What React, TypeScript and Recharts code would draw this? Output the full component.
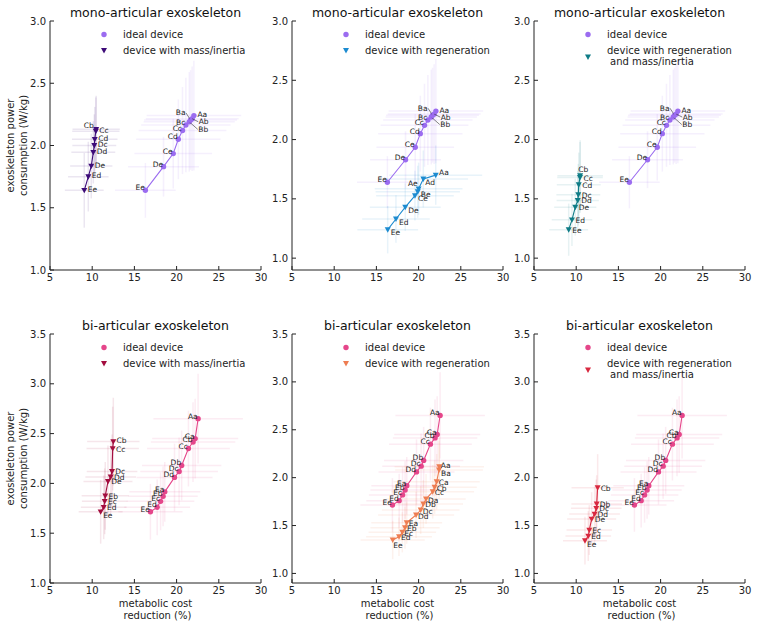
import React from 'react';
import { ScatterChart, Scatter, XAxis, YAxis, ErrorBar } from 'recharts';

const FONT = '"DejaVu Sans", Verdana, sans-serif';
const INK = '#222';

// axis ticks
const reductionTicks = [5, 10, 15, 20, 25, 30];
const monoPowerTicks = [1.0, 1.5, 2.0, 2.5, 3.0];
const biPowerTicks = [1.0, 1.5, 2.0, 2.5, 3.0, 3.5];

// mono-articular, ideal device
const monoIdealCodes = ['Ee', 'De', 'Ce', 'Cd', 'Cc', 'Bc', 'Bb', 'Ba', 'Ab', 'Aa'];
const monoIdealReduction = [16.3, 18.45, 19.6, 20.2, 20.7, 21.1, 21.5, 21.65, 21.85, 22.05];
const monoIdealPower = [1.64, 1.83, 1.935, 2.05, 2.12, 2.165, 2.19, 2.205, 2.215, 2.24];
const monoIdealReductionErr = [3.6, 4.2, 4.6, 5.0, 5.2, 5.3, 5.4, 5.5, 5.5, 5.6];
const monoIdealPowerErr = [0.22, 0.24, 0.28, 0.32, 0.35, 0.38, 0.4, 0.4, 0.42, 0.44];

// mono-articular, device with mass/inertia
const monoMassCodes = ['Ee', 'Ed', 'De', 'Dd', 'Dc', 'Cd', 'Cc', 'Cb'];
const monoMassReduction = [9.06, 9.54, 9.89, 10.13, 10.25, 10.3, 10.43, 10.47];
const monoMassPower = [1.64, 1.75, 1.835, 1.945, 2.0, 2.05, 2.115, 2.13];
const monoMassReductionErr = [2.3, 2.4, 2.5, 2.6, 2.6, 2.7, 2.8, 2.8];
const monoMassPowerErr = [0.3, 0.28, 0.26, 0.25, 0.25, 0.26, 0.27, 0.27];

// mono-articular, device with regeneration
const monoRegenCodes = ['Ee', 'Ed', 'De', 'Ce', 'Be', 'Ae', 'Ad', 'Aa'];
const monoRegenReduction = [16.34, 17.32, 18.42, 19.57, 19.9, 20.0, 20.56, 22.03];
const monoRegenPower = [1.24, 1.33, 1.43, 1.527, 1.56, 1.585, 1.668, 1.7];
const monoRegenReductionErr = [3.6, 4.0, 4.2, 4.6, 5.0, 5.2, 5.3, 5.5];
const monoRegenPowerErr = [0.2, 0.2, 0.2, 0.21, 0.22, 0.22, 0.24, 0.25];

// mono-articular, device with regeneration and mass/inertia
const monoRegenMassCodes = ['Ee', 'Ed', 'De', 'Dd', 'Dc', 'Cd', 'Cc', 'Cb'];
const monoRegenMassReduction = [9.11, 9.5, 9.89, 10.18, 10.25, 10.3, 10.45, 10.47];
const monoRegenMassPower = [1.24, 1.323, 1.43, 1.487, 1.535, 1.62, 1.68, 1.695];
const monoRegenMassReductionErr = [2.3, 2.4, 2.5, 2.5, 2.6, 2.6, 2.7, 2.7];
const monoRegenMassPowerErr = [0.22, 0.22, 0.24, 0.25, 0.26, 0.27, 0.3, 0.3];

// bi-articular, ideal device
const biIdealCodes = ['Ee', 'Ed', 'Ec', 'Eb', 'Ea', 'Dd', 'Dc', 'Db', 'Cc', 'Cb', 'Ca', 'Aa'];
const biIdealReduction = [16.9, 17.7, 18.1, 18.4, 18.6, 19.75, 20.3, 20.6, 21.4, 21.95, 22.2, 22.55];
const biIdealPower = [1.715, 1.76, 1.82, 1.87, 1.915, 2.06, 2.12, 2.18, 2.35, 2.415, 2.45, 2.65];
const biIdealReductionErr = [3.8, 3.9, 4.0, 4.1, 4.2, 4.5, 4.6, 4.7, 4.9, 5.0, 5.1, 5.3];
const biIdealPowerErr = [0.28, 0.28, 0.29, 0.3, 0.3, 0.34, 0.34, 0.35, 0.38, 0.4, 0.4, 0.45];

// bi-articular, device with mass/inertia
const biMassCodes = ['Ee', 'Ed', 'Ec', 'Eb', 'De', 'Dd', 'Dc', 'Cc', 'Cb'];
const biMassReduction = [11.0, 11.36, 11.48, 11.55, 11.87, 12.19, 12.35, 12.43, 12.5];
const biMassPower = [1.715, 1.76, 1.82, 1.875, 2.02, 2.065, 2.12, 2.35, 2.42];
const biMassReductionErr = [2.6, 2.7, 2.7, 2.8, 2.9, 3.0, 3.0, 3.1, 3.1];
const biMassPowerErr = [0.32, 0.32, 0.33, 0.34, 0.36, 0.37, 0.37, 0.42, 0.44];

// bi-articular, device with regeneration
const biRegenCodes = ['Ee', 'Ed', 'Ec', 'Eb', 'Ea', 'Dd', 'Dc', 'Db', 'Da', 'Cc', 'Cb', 'Ca', 'Ba', 'Aa'];
const biRegenReduction = [16.93, 17.68, 18.07, 18.39, 18.59, 19.7, 20.25, 20.56, 20.88, 21.67, 21.9, 22.14, 22.42, 22.45];
const biRegenPower = [1.349, 1.383, 1.43, 1.477, 1.53, 1.61, 1.662, 1.725, 1.777, 1.853, 1.9, 1.957, 2.08, 2.114];
const biRegenReductionErr = [3.8, 3.9, 4.0, 4.1, 4.2, 4.5, 4.6, 4.7, 4.7, 4.9, 5.0, 5.1, 5.2, 5.3];
const biRegenPowerErr = [0.2, 0.2, 0.21, 0.22, 0.22, 0.24, 0.25, 0.25, 0.26, 0.28, 0.28, 0.29, 0.3, 0.3];

// bi-articular, device with regeneration and mass/inertia
const biRegenMassCodes = ['Ee', 'Ed', 'Ec', 'De', 'Dd', 'Dc', 'Db', 'Cb'];
const biRegenMassReduction = [11.04, 11.43, 11.55, 11.83, 12.18, 12.38, 12.43, 12.54];
const biRegenMassPower = [1.342, 1.39, 1.453, 1.568, 1.62, 1.68, 1.725, 1.895];
const biRegenMassReductionErr = [2.6, 2.7, 2.7, 2.9, 3.0, 3.0, 3.0, 3.1];
const biRegenMassPowerErr = [0.25, 0.26, 0.26, 0.28, 0.29, 0.3, 0.3, 0.35];

type Row = { code: string; x: number; y: number; ex: number; ey: number };
type Place = { anchor: 'start' | 'end'; dx: number; dy: number; leader?: boolean };
type Series = {
  key: string;
  legend: string[];
  color: string;
  marker: 'circle' | 'triangle';
  rows: Row[];
  place: Place;
  overrides?: Record<string, Place>;
};

const rows = (codes: string[], x: number[], y: number[], ex: number[], ey: number[]): Row[] =>
  codes.map((code, i) => ({ code, x: x[i], y: y[i], ex: ex[i], ey: ey[i] }));

// label placement around a point (baseline offsets, px)
const upLeft: Place = { anchor: 'end', dx: -0.5, dy: 0 };

const monoIdeal: Series = {
  key: 'monoIdeal',
  legend: ['ideal device'],
  color: '#9b6cf0',
  marker: 'circle',
  rows: rows(monoIdealCodes, monoIdealReduction, monoIdealPower, monoIdealReductionErr, monoIdealPowerErr),
  place: upLeft,
  overrides: {
    Aa: { anchor: 'start', dx: 3.5, dy: 1.5 },
    Ab: { anchor: 'start', dx: 6.5, dy: 5.5, leader: true },
    Bb: { anchor: 'start', dx: 9, dy: 10, leader: true },
    Ba: { anchor: 'end', dx: -5, dy: -4.5, leader: true },
  },
};

const monoMass: Series = {
  key: 'monoMass',
  legend: ['device with mass/inertia'],
  color: '#3d0b78',
  marker: 'triangle',
  rows: rows(monoMassCodes, monoMassReduction, monoMassPower, monoMassReductionErr, monoMassPowerErr),
  place: { anchor: 'start', dx: 3.5, dy: 1.5 },
  overrides: { Cb: { anchor: 'end', dx: -2.5, dy: -1.5 } },
};

const monoRegen: Series = {
  key: 'monoRegen',
  legend: ['device with regeneration'],
  color: '#1c8bd0',
  marker: 'triangle',
  rows: rows(monoRegenCodes, monoRegenReduction, monoRegenPower, monoRegenReductionErr, monoRegenPowerErr),
  place: { anchor: 'start', dx: 3, dy: 5.5 },
  overrides: {
    Aa: { anchor: 'start', dx: 3.3, dy: 0 },
    Ad: { anchor: 'start', dx: 2, dy: 6.5 },
    Ae: { anchor: 'end', dx: -1, dy: -2.5 },
  },
};

const monoRegenMass: Series = {
  key: 'monoRegenMass',
  legend: ['device with regeneration', ' and mass/inertia'],
  color: '#0f7c86',
  marker: 'triangle',
  rows: rows(monoRegenMassCodes, monoRegenMassReduction, monoRegenMassPower, monoRegenMassReductionErr, monoRegenMassPowerErr),
  place: { anchor: 'start', dx: 3.5, dy: 3 },
  overrides: { Cb: { anchor: 'start', dx: -2, dy: -4 } },
};

const biIdeal: Series = {
  key: 'biIdeal',
  legend: ['ideal device'],
  color: '#e5468a',
  marker: 'circle',
  rows: rows(biIdealCodes, biIdealReduction, biIdealPower, biIdealReductionErr, biIdealPowerErr),
  place: upLeft,
};

const biMass: Series = {
  key: 'biMass',
  legend: ['device with mass/inertia'],
  color: '#a30d3e',
  marker: 'triangle',
  rows: rows(biMassCodes, biMassReduction, biMassPower, biMassReductionErr, biMassPowerErr),
  place: { anchor: 'start', dx: 3.3, dy: 3 },
  overrides: { Cb: { anchor: 'start', dx: 3.3, dy: 1 }, Ee: { anchor: 'start', dx: 2.5, dy: 6 } },
};

const biRegen: Series = {
  key: 'biRegen',
  legend: ['device with regeneration'],
  color: '#ee7d52',
  marker: 'triangle',
  rows: rows(biRegenCodes, biRegenReduction, biRegenPower, biRegenReductionErr, biRegenPowerErr),
  place: { anchor: 'start', dx: 2, dy: 3.5 },
  overrides: {
    Aa: { anchor: 'start', dx: 1.5, dy: 1 },
    Ba: { anchor: 'start', dx: 2, dy: 6.5 },
    Ee: { anchor: 'start', dx: 0.5, dy: 8 },
  },
};

const biRegenMass: Series = {
  key: 'biRegenMass',
  legend: ['device with regeneration', ' and mass/inertia'],
  color: '#d8283f',
  marker: 'triangle',
  rows: rows(biRegenMassCodes, biRegenMassReduction, biRegenMassPower, biRegenMassReductionErr, biRegenMassPowerErr),
  place: { anchor: 'start', dx: 3, dy: 3 },
  overrides: { Ee: { anchor: 'start', dx: 2, dy: 6 } },
};

type PanelCfg = {
  left: number;
  top: number;
  title: string;
  powerDomain: [number, number];
  powerTicks: number[];
  series: Series[];
  yLabel: boolean;
  xLabel: boolean;
};

const PLOT_W = 211;
const PLOT_H = 249;

const panels: PanelCfg[] = [
  { left: 50, top: 21, title: 'mono-articular exoskeleton', powerDomain: [1, 3], powerTicks: monoPowerTicks, series: [monoIdeal, monoMass], yLabel: true, xLabel: false },
  { left: 292, top: 21, title: 'mono-articular exoskeleton', powerDomain: [0.9, 3], powerTicks: monoPowerTicks, series: [monoIdeal, monoRegen], yLabel: false, xLabel: false },
  { left: 534, top: 21, title: 'mono-articular exoskeleton', powerDomain: [0.9, 3], powerTicks: monoPowerTicks, series: [monoIdeal, monoRegenMass], yLabel: false, xLabel: false },
  { left: 50, top: 334, title: 'bi-articular exoskeleton', powerDomain: [1, 3.5], powerTicks: biPowerTicks, series: [biIdeal, biMass], yLabel: true, xLabel: true },
  { left: 292, top: 334, title: 'bi-articular exoskeleton', powerDomain: [0.9, 3.5], powerTicks: biPowerTicks, series: [biIdeal, biRegen], yLabel: false, xLabel: true },
  { left: 534, top: 334, title: 'bi-articular exoskeleton', powerDomain: [0.9, 3.5], powerTicks: biPowerTicks, series: [biIdeal, biRegenMass], yLabel: false, xLabel: true },
];

function MarkerGlyph({ kind, cx, cy, color }: { kind: string; cx: number; cy: number; color: string }) {
  if (kind === 'circle') return <circle cx={cx} cy={cy} r={2.7} fill={color} />;
  return <path d={`M${cx - 3},${cy - 2.4}L${cx + 3},${cy - 2.4}L${cx},${cy + 3}Z`} fill={color} />;
}

// marker plus its code label (and a short leader line where the label was pushed away)
const makeShape = (s: Series) => (p: any) => {
  const { cx, cy, payload } = p;
  if (cx == null || cy == null) return <g />;
  const pl = (s.overrides && s.overrides[payload.code]) || s.place;
  const tx = cx + pl.dx;
  const ty = cy + pl.dy;
  return (
    <g>
      <MarkerGlyph kind={s.marker} cx={cx} cy={cy} color={s.color} />
      {pl.leader && (
        <line x1={cx} y1={cy} x2={pl.anchor === 'start' ? tx - 0.5 : tx + 0.5} y2={ty - 2.5} stroke="#333" strokeWidth={0.6} />
      )}
      <text x={tx} y={ty} textAnchor={pl.anchor} fontSize={7.5} fill={INK} fontFamily={FONT}>
        {payload.code}
      </text>
    </g>
  );
};

// inward tick marks, as in the original figure
const YTick = (props: any) => {
  const { x, y, payload } = props;
  return (
    <g>
      <line x1={x + 4} x2={x + 8} y1={y} y2={y} stroke={INK} />
      <text x={x} y={y} textAnchor="end" dominantBaseline="central" fontSize={10} fill={INK} fontFamily={FONT}>
        {Number(payload.value).toFixed(1)}
      </text>
    </g>
  );
};

const XTick = (props: any) => {
  const { x, y, payload } = props;
  return (
    <g>
      <line x1={x} x2={x} y1={y - 4} y2={y - 8} stroke={INK} />
      <text x={x} y={y} dy="0.71em" textAnchor="middle" fontSize={10} fill={INK} fontFamily={FONT}>
        {payload.value}
      </text>
    </g>
  );
};

function Panel({ cfg }: { cfg: PanelCfg }) {
  return (
    <div style={{ position: 'absolute', left: cfg.left - 40, top: cfg.top - 10 }}>
      <ScatterChart width={PLOT_W + 50} height={PLOT_H + 35} margin={{ top: 10, right: 10, bottom: 0, left: 0 }}>
        <XAxis
          type="number"
          dataKey="x"
          domain={[5, 30]}
          ticks={reductionTicks}
          interval={0}
          allowDataOverflow
          height={25}
          tickSize={0}
          tickMargin={4}
          tickLine={false}
          axisLine={{ stroke: INK }}
          tick={<XTick />}
        />
        <YAxis
          type="number"
          dataKey="y"
          domain={cfg.powerDomain}
          ticks={cfg.powerTicks}
          interval={0}
          allowDataOverflow
          width={40}
          tickSize={0}
          tickMargin={4}
          tickLine={false}
          axisLine={{ stroke: INK }}
          tick={<YTick />}
        />
        {cfg.series.map((s) => (
          <Scatter
            key={s.key}
            name={s.legend.join('')}
            data={s.rows}
            fill={s.color}
            line={{ stroke: s.color, strokeWidth: 1.1 }}
            lineType="joint"
            shape={makeShape(s)}
            isAnimationActive={false}
          >
            <ErrorBar dataKey="ex" direction="x" width={0} stroke={s.color} strokeOpacity={0.1} strokeWidth={1.5} />
            <ErrorBar dataKey="ey" direction="y" width={0} stroke={s.color} strokeOpacity={0.1} strokeWidth={1.5} />
          </Scatter>
        ))}
      </ScatterChart>
    </div>
  );
}

// titles, legends and axis labels
function Annotations() {
  return (
    <svg width={757} height={627} style={{ position: 'absolute', left: 0, top: 0, pointerEvents: 'none' }} fontFamily={FONT}>
      {panels.map((cfg, i) => {
        const cx = cfg.left + PLOT_W / 2;
        const mx = cfg.left + 54;
        const tx = cfg.left + 73;
        const [ideal, other] = cfg.series;
        const twoLine = other.legend.length > 1;
        return (
          <g key={i}>
            <text x={cx} y={cfg.top - 8.5} textAnchor="middle" dominantBaseline="central" fontSize={12.5} fill="#111">
              {cfg.title}
            </text>
            <MarkerGlyph kind={ideal.marker} cx={mx} cy={cfg.top + 13.5} color={ideal.color} />
            <text x={tx} y={cfg.top + 13.5} dominantBaseline="central" fontSize={10} fill={INK}>
              {ideal.legend[0]}
            </text>
            <MarkerGlyph kind={other.marker} cx={mx} cy={cfg.top + (twoLine ? 36 : 29.5)} color={other.color} />
            {other.legend.map((line, j) => (
              <text
                key={j}
                x={tx + (line.startsWith(' ') ? 3 : 0)}
                y={cfg.top + (twoLine ? 29 + j * 11.5 : 29.5)}
                dominantBaseline="central"
                fontSize={10}
                fill={INK}
              >
                {line.trim()}
              </text>
            ))}
            {cfg.yLabel && (
              <g transform={`translate(0, ${cfg.top + PLOT_H / 2}) rotate(-90)`}>
                <text x={0} y={10.5} textAnchor="middle" dominantBaseline="central" fontSize={10} fill={INK}>
                  exoskeleton power
                </text>
                <text x={0} y={23} textAnchor="middle" dominantBaseline="central" fontSize={10} fill={INK}>
                  consumption (W/kg)
                </text>
              </g>
            )}
            {cfg.xLabel && (
              <g>
                <text x={cx} y={cfg.top + PLOT_H + 20} textAnchor="middle" dominantBaseline="central" fontSize={10} fill={INK}>
                  metabolic cost
                </text>
                <text x={cx + 2} y={cfg.top + PLOT_H + 32.5} textAnchor="middle" dominantBaseline="central" fontSize={10} fill={INK}>
                  reduction (%)
                </text>
              </g>
            )}
          </g>
        );
      })}
    </svg>
  );
}

export default function App() {
  return (
    <div style={{ position: 'absolute', left: 0, top: 0, width: 757, height: 627, background: '#fff', fontFamily: FONT }}>
      {panels.map((cfg, i) => (
        <Panel key={i} cfg={cfg} />
      ))}
      <Annotations />
    </div>
  );
}
